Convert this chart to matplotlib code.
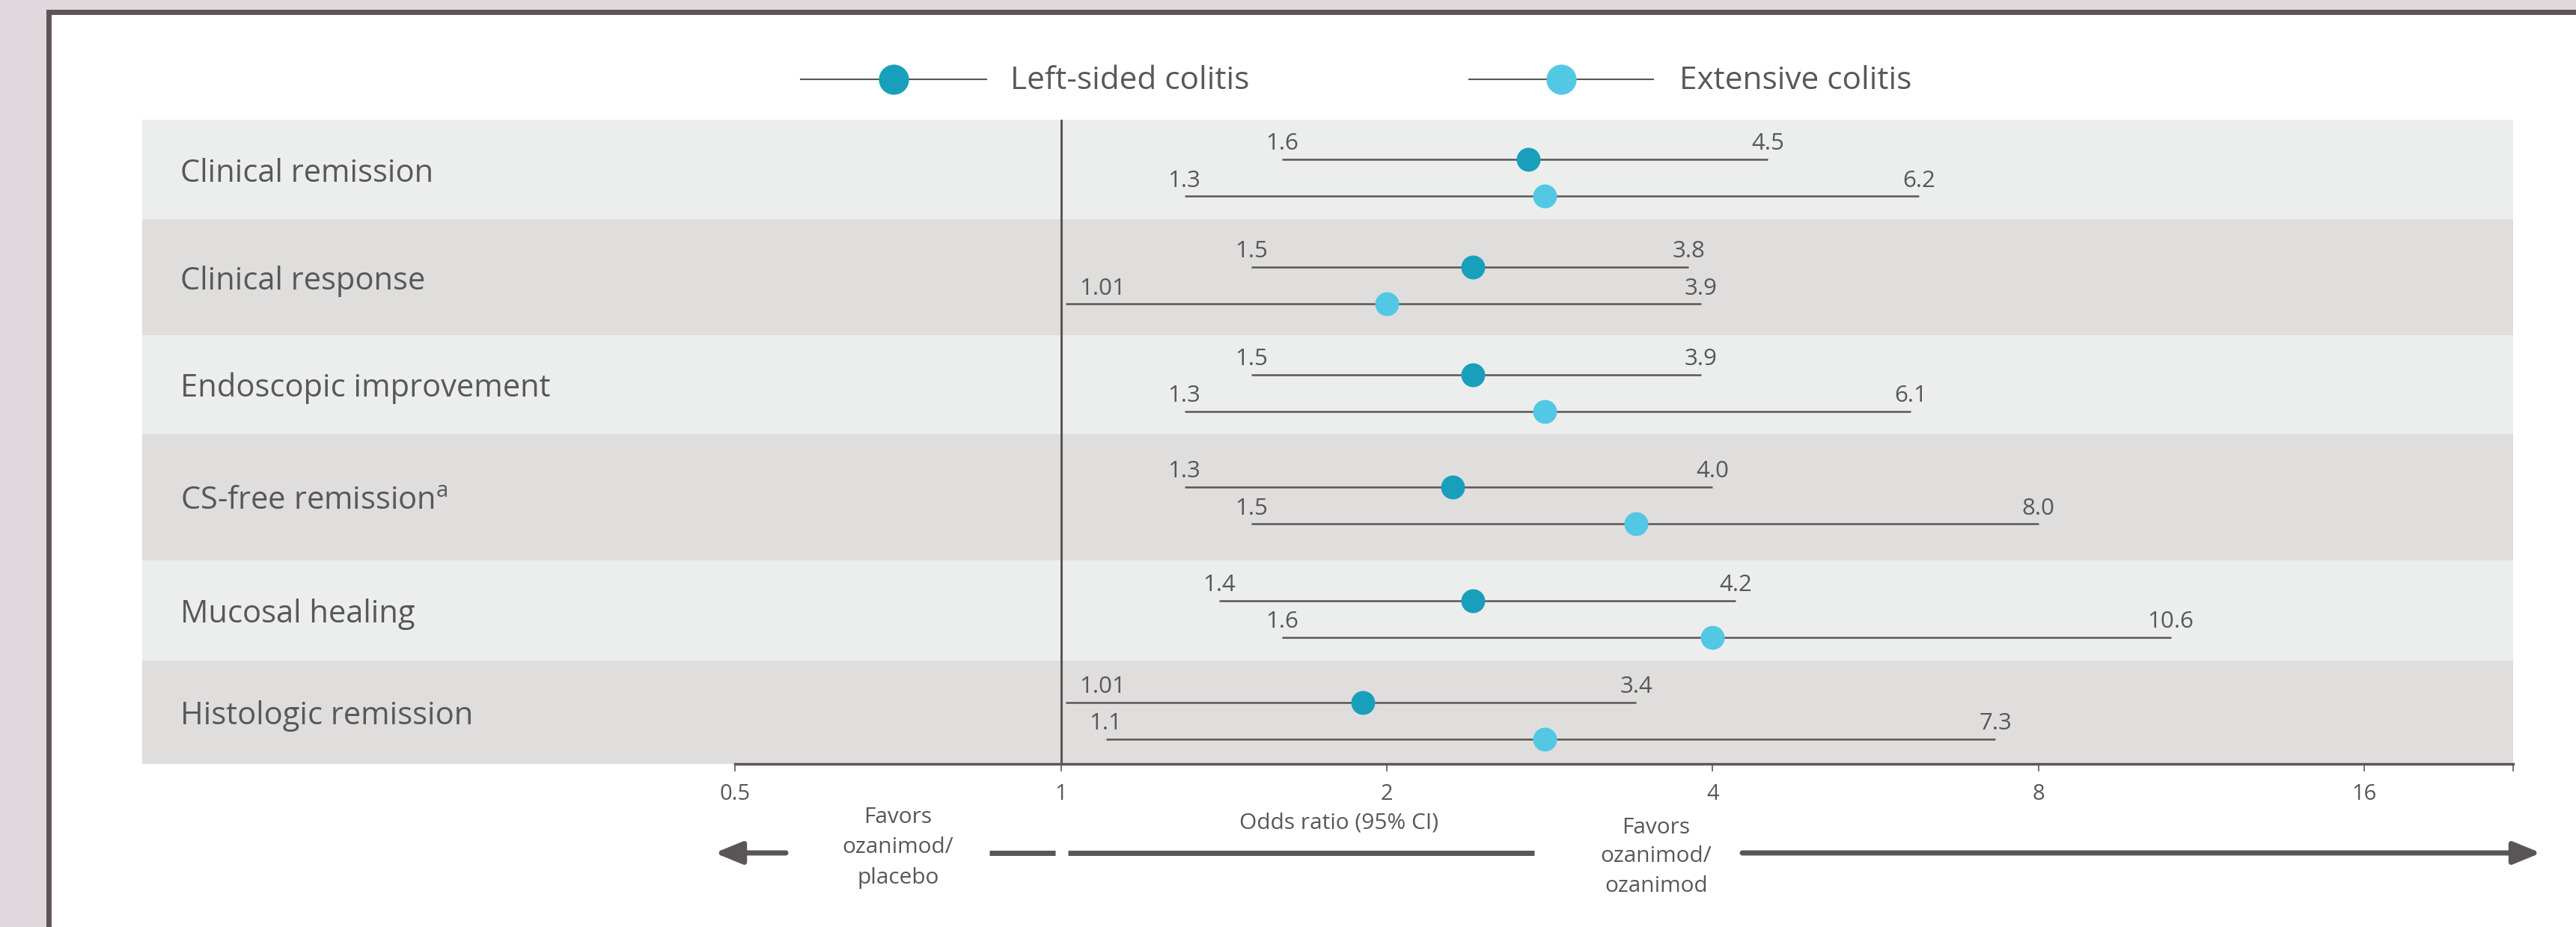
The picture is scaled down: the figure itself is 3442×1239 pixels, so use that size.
import matplotlib.pyplot as plt
from matplotlib.patches import Rectangle, FancyArrowPatch
from matplotlib.ticker import NullLocator

# odds ratios with 95% CI, per outcome
outcomes = ["Clinical remission", "Clinical response", "Endoscopic improvement",
            r"CS-free remission$^{\mathregular{a}}$", "Mucosal healing", "Histologic remission"]
series = ["Left-sided colitis", "Extensive colitis"]

left_or = [2.7, 2.4, 2.4, 2.3, 2.4, 1.9]
left_lo = [1.6, 1.5, 1.5, 1.3, 1.4, 1.01]
left_hi = [4.5, 3.8, 3.9, 4.0, 4.2, 3.4]

ext_or = [2.8, 2.0, 2.8, 3.4, 4.0, 2.8]
ext_lo = [1.3, 1.01, 1.3, 1.5, 1.6, 1.1]
ext_hi = [6.2, 3.9, 6.1, 8.0, 10.6, 7.3]

ticks = [0.5, 1, 2, 4, 8, 16]
tick_labels = ["0.5", "1", "2", "4", "8", "16"]

plt.rcParams["font.family"] = ["Open Sans", "DejaVu Sans"]

c_left = "#189fbb"
c_ext = "#52c8e5"
dark = "#5a5657"
txt = "#58585a"
frame = "#5f5556"
bands = ["#eceeed", "#dfdedc"]

W, H = 3442, 1239
fig = plt.figure(figsize=(W / 100, H / 100), dpi=100, facecolor="#e1d8dd")

# background layer in pixel coordinates (frame, legend, direction arrows)
bg = fig.add_axes([0, 0, 1, 1], zorder=0)
bg.set_xlim(0, W)
bg.set_ylim(H, 0)
bg.axis("off")
bg.add_patch(Rectangle((64.5, 15.5), W, H, facecolor="white", edgecolor=frame, lw=5))

# legend
leg_y = 106
for name, col, (x0, x1), tx in zip(series, [c_left, c_ext],
                                   [(1070, 1318), (1963, 2209)], [1350, 2244]):
    bg.plot([x0, x1], [leg_y, leg_y], color=dark, lw=1.5)
    bg.plot([(x0 + x1) / 2], [leg_y], "o", ms=29, color=col, mew=0)
    bg.text(tx, 119, name, fontsize=30.5, color=txt, va="baseline")

# direction arrows under the axis
arrow_y = 1140
bg.add_patch(FancyArrowPatch((1050, arrow_y), (955, arrow_y),
                             arrowstyle="-|>,head_length=1.1,head_width=0.45",
                             mutation_scale=20, lw=5, color=dark, shrinkA=0, shrinkB=0))
bg.add_patch(FancyArrowPatch((2328, arrow_y), (3395, arrow_y),
                             arrowstyle="-|>,head_length=1.1,head_width=0.45",
                             mutation_scale=20, lw=5, color=dark, shrinkA=0, shrinkB=0))
bg.plot([1322, 1410], [arrow_y, arrow_y], color=dark, lw=5, solid_capstyle="butt")
bg.plot([1427, 2050], [arrow_y, arrow_y], color=dark, lw=5, solid_capstyle="butt")

for i, line in enumerate(["Favors", "ozanimod/", "placebo"]):
    bg.text(1200, 1093 + 40 * i, line, fontsize=21.5, color=txt, ha="center", va="center")
for i, line in enumerate(["Favors", "ozanimod/", "ozanimod"]):
    bg.text(2213, 1106 + 39 * i, line, fontsize=21.5, color=txt, ha="center", va="center")
bg.text(1789, 1100, "Odds ratio (95% CI)", fontsize=21.5, color=txt, ha="center", va="center")

# forest plot
x_lo, x_hi = 0.1416, 21.96
row_edges = [160, 293, 448, 580, 749, 883, 1021]

ax = fig.add_axes([190 / W, 1 - 1021 / H, 3168 / W, 861 / H], zorder=1)
ax.patch.set_alpha(0)
ax.set_xscale("log", base=2)
ax.set_xlim(x_lo, x_hi)
ax.set_ylim(row_edges[-1], row_edges[0])

for i in range(len(outcomes)):
    ax.axhspan(row_edges[i], row_edges[i + 1], color=bands[i % 2], lw=0, zorder=0)
ax.axvline(1, color=dark, lw=2.2, zorder=1)


def bound_text(v):
    return f"{v:.1f}" if round(v, 1) == v else f"{v:.2f}"


for i, name in enumerate(outcomes):
    top, bottom = row_edges[i], row_edges[i + 1]
    centre = (top + bottom) / 2
    ax.text(0.0161, centre + 16.5, name, transform=ax.get_yaxis_transform(),
            fontsize=30, color=txt, va="baseline")
    rows = [(left_or[i], left_lo[i], left_hi[i], centre + 11 - 24.5, c_left),
            (ext_or[i], ext_lo[i], ext_hi[i], centre + 11 + 24.5, c_ext)]
    for est, lo, hi, y, col in rows:
        ax.errorbar(est, y, xerr=[[est - lo], [hi - est]], fmt="o", ms=23,
                    mfc=col, mec=col, mew=0, ecolor=dark, elinewidth=1.8,
                    capsize=5.8, capthick=1.1, zorder=3)
        for v in (lo, hi):
            near_one = v < 1.05
            ax.annotate(bound_text(v), (v, y), xytext=(13 if near_one else 0, 9),
                        textcoords="offset points", ha="left" if near_one else "center",
                        va="baseline", fontsize=22.5, color=txt)

for side in ["top", "right", "left"]:
    ax.spines[side].set_visible(False)
ax.spines["bottom"].set_bounds(0.5, x_hi)
ax.spines["bottom"].set_color(dark)
ax.spines["bottom"].set_linewidth(2.5)
ax.set_xticks(ticks + [x_hi])
ax.set_xticklabels(tick_labels + [""])
ax.xaxis.set_minor_locator(NullLocator())
ax.tick_params(axis="x", length=7, width=1.2, color=dark, pad=12,
               labelsize=21, labelcolor=txt)
ax.set_yticks([])

fig.savefig("out.png", dpi=100, facecolor=fig.get_facecolor())
